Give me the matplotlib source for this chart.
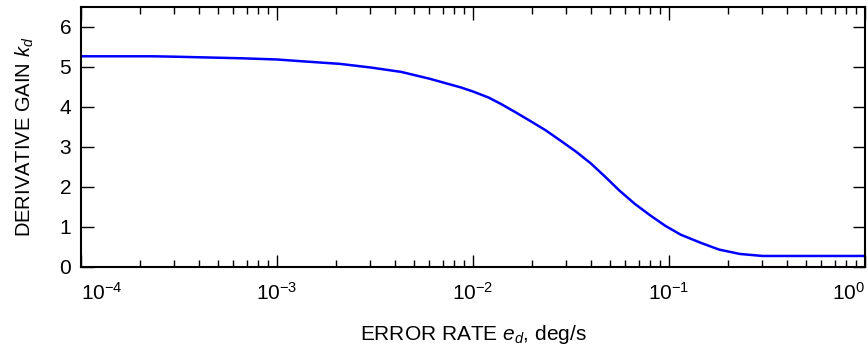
import numpy as np
import matplotlib
matplotlib.use("Agg")
import matplotlib.pyplot as plt
from matplotlib.ticker import LogLocator, NullFormatter

plt.rcParams['font.family'] = ['Liberation Sans', 'DejaVu Sans']
plt.rcParams['mathtext.fontset'] = 'custom'
plt.rcParams['mathtext.rm'] = 'Liberation Sans'
plt.rcParams['mathtext.it'] = 'Liberation Sans:italic'

# error rate (deg/s) and derivative gain
error_rate = [1.0e-4, 2.3e-4, 3.0e-4, 6.6e-4, 1.0e-3, 1.3e-3, 2.1e-3, 3.0e-3,
              4.3e-3, 6.0e-3, 8.7e-3, 1.0e-2, 1.2e-2, 1.4e-2, 1.65e-2, 1.95e-2,
              2.35e-2, 2.8e-2, 3.35e-2, 4.0e-2, 4.7e-2, 5.6e-2, 6.7e-2, 8.1e-2,
              9.6e-2, 0.115, 0.145, 0.18, 0.23, 0.30, 1.0]
gain = [5.26, 5.26, 5.25, 5.21, 5.18, 5.14, 5.07, 4.98,
        4.87, 4.70, 4.48, 4.38, 4.23, 4.06, 3.86, 3.65,
        3.41, 3.15, 2.88, 2.58, 2.26, 1.90, 1.57, 1.27,
        1.02, 0.80, 0.60, 0.43, 0.32, 0.27, 0.27]

xticks = [1e-4, 1e-3, 1e-2, 1e-1, 1e0]
xticklabels = [r'$10^{-4}$', r'$10^{-3}$', r'$10^{-2}$', r'$10^{-1}$', r'$10^{0}$']
yticks = [0, 1, 2, 3, 4, 5, 6]

fig = plt.figure(figsize=(8.68, 3.51), dpi=100)
ax = fig.add_axes([0.0933, 0.240, 0.9032, 0.741])

ax.plot(error_rate, gain, color='#0000ff', lw=1.8)

ax.set_xscale('log')
ax.set_xlim(1e-4, 1.0)
ax.set_ylim(0, 6.5)
ax.set_xticks(xticks)
ax.set_xticklabels(xticklabels)
ax.xaxis.set_minor_locator(LogLocator(base=10, subs=np.arange(2, 10)))
ax.xaxis.set_minor_formatter(NullFormatter())
ax.set_yticks(yticks)

labs = ax.get_xticklabels()
labs[0].set_horizontalalignment('left')
labs[-1].set_horizontalalignment('right')

ax.tick_params(which='both', direction='in', top=True, right=True, labelsize=15, width=1, colors='black')
ax.tick_params(which='major', length=9)
ax.tick_params(axis='x', which='major', pad=11)
ax.tick_params(axis='y', which='major', pad=7)
ax.tick_params(which='minor', length=5)
for s in ax.spines.values():
    s.set_linewidth(1.5)

ax.set_xlabel(r'ERROR RATE $e_d$, deg/s', fontsize=15, labelpad=14)
ax.set_ylabel(r'DERIVATIVE GAIN $k_d$', fontsize=14.5, labelpad=17)

fig.savefig('out.png', dpi=100)
